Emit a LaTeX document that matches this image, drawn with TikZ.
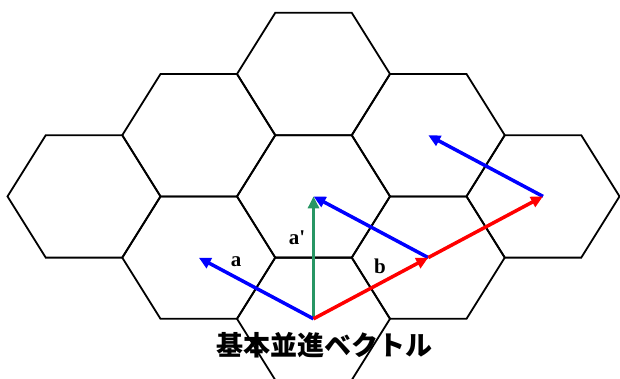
\documentclass[tikz,border=0pt]{standalone}
\usepackage{fontspec}
\setmainfont{Liberation Serif}
\newfontfamily\jpfont{Noto Sans CJK JP}
\usetikzlibrary{arrows.meta}
\definecolor{vecblue}{RGB}{0, 0, 255}
\definecolor{vecred}{RGB}{255, 0, 0}
\definecolor{vecgreen}{RGB}{40, 150, 100}

\begin{document}
\begin{tikzpicture}[x=1pt, y=-1pt,
    cell/.style={draw=black, line width=1.8pt, line join=miter},
    vec/.style={line width=3.5pt, -{Triangle[length=12pt, width=11pt]}},
    veclabel/.style={font=\bfseries\fontsize{21}{21}\selectfont, inner sep=0pt}]
    % Parameter für Zellradius, halbe Zellhöhe und Gitterabstände
    \def\R{76.5}
    \def\H{61.2}
    \useasboundingbox (0,0) rectangle (620,378);

    % Sechseckige Zellen (Mittelpunkte)
    \foreach \cx/\cy in {84/196.4, 198.75/135.2, 198.75/257.6, 313.5/74,
                         313.5/196.4, 313.5/318.8, 428.25/135.2, 428.25/257.6, 543/196.4}
        \draw[cell] (\cx+\R,\cy) -- (\cx+\R/2,\cy+\H) -- (\cx-\R/2,\cy+\H)
            -- (\cx-\R,\cy) -- (\cx-\R/2,\cy-\H) -- (\cx+\R/2,\cy-\H) -- cycle;

    % Gitterpunkte für die Vektoren
    \coordinate (O)  at (313.5, 318.8);
    \coordinate (A)  at (198.75, 257.6);
    \coordinate (Ap) at (313.5, 196.4);
    \coordinate (B1) at (428.25, 257.6);
    \coordinate (B2) at (543, 196.4);
    \coordinate (C)  at (428.25, 135.2);

    % Vektoren a, a' und b
    \draw[vec, vecgreen] (O) -- (Ap);
    \draw[vec, vecblue] (O) -- (A);
    \draw[vec, vecblue] (B1) -- (Ap);
    \draw[vec, vecblue] (B2) -- (C);
    \draw[vec, vecred] (O) -- (B1);
    \draw[vec, vecred] (B1) -- (B2);

    % Beschriftungen
    \node[veclabel] (la)  at (236, 262) {a};
    \node[veclabel] (lap) at (297, 238) {a\textquotesingle};
    \node[veclabel] (lb)  at (380, 266) {b};
    \node[font=\jpfont\bfseries\fontsize{27}{27}\selectfont, inner sep=0pt] (title) at (324, 345) {基本並進ベクトル};
\end{tikzpicture}
\end{document}
